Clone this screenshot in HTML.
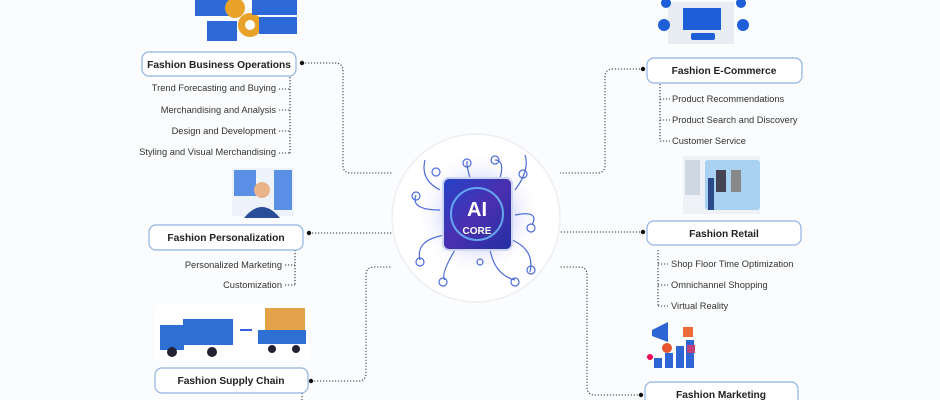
<!DOCTYPE html>
<html><head><meta charset="utf-8"><style>
html,body{margin:0;padding:0;width:940px;height:400px;overflow:hidden;background:#fbfcfd;}
svg{display:block}
text{font-family:"Liberation Sans",sans-serif;fill:#222;}
.h{font-size:10.2px;font-weight:bold;}
.s{font-size:9.3px;fill:#333;}
.box{fill:#fff;stroke:#8fb4e0;stroke-width:1.2;}
.d{fill:none;stroke:#333;stroke-width:1.1;stroke-dasharray:1.2 1.8;}
</style></head><body>
<svg width="940" height="400" viewBox="0 0 940 400">
<defs>
<radialGradient id="glow" cx="50%" cy="50%" r="50%"><stop offset="0" stop-color="#6a6cf0" stop-opacity=".55"/><stop offset=".6" stop-color="#8a8cf5" stop-opacity=".2"/><stop offset="1" stop-color="#fff" stop-opacity="0"/></radialGradient>
<linearGradient id="chip" x1="0" y1="0" x2="1" y2="1"><stop offset="0" stop-color="#2443c8"/><stop offset=".5" stop-color="#4a2fb0"/><stop offset="1" stop-color="#2230a0"/></linearGradient>
</defs>
<path class="d" d="M302 63 H335 Q343 63 343 71 V165 Q343 173 351 173 H392"/>
<path class="d" d="M309 233 H392"/>
<path class="d" d="M311 381 H358 Q366 381 366 373 V275 Q366 267 374 267 H392"/>
<path class="d" d="M643 69 H613 Q605 69 605 77 V165 Q605 173 597 173 H560"/>
<path class="d" d="M643 232 H560"/>
<path class="d" d="M641 395 H595 Q587 395 587 387 V275 Q587 267 579 267 H560"/>
<path class="d" d="M290 77 V154 M279 89 H290 M279 110 H290 M279 131 H290 M279 153 H290"/>
<path class="d" d="M295 250 V285 M285 265 H295 M285 285 H295"/>
<path class="d" d="M302 393 V400"/>
<path class="d" d="M660 84 V141 M660 99 H670 M660 120 H670 M660 141 H670"/>
<path class="d" d="M658 250 V306 M658 264 H668 M658 285 H668 M658 306 H668"/>
<g fill="#111"><circle cx="302" cy="63" r="2.2"/><circle cx="309" cy="233" r="2.2"/><circle cx="311" cy="381" r="2.2"/><circle cx="643" cy="69" r="2.2"/><circle cx="643" cy="232" r="2.2"/><circle cx="641" cy="395" r="2.2"/></g>
<circle cx="476" cy="218" r="84" fill="#fff" stroke="#eceef3" stroke-width="1.5"/>
<circle cx="478" cy="214" r="62" fill="url(#glow)"/>
<g fill="none" stroke="#4d6bd8" stroke-width="1.2">
<path d="M440 190 Q420 180 425 160 M445 235 Q415 240 420 260 M515 190 Q530 170 525 155 M512 240 Q535 250 530 272 M470 178 Q465 160 468 162 M490 250 Q495 275 515 280 M455 250 Q440 275 445 280 M500 178 Q505 160 495 160 M440 210 Q410 210 416 195 M515 215 Q540 210 532 225"/>
<circle cx="436" cy="172" r="4"/><circle cx="467" cy="163" r="4"/><circle cx="495" cy="160" r="4"/><circle cx="523" cy="174" r="4"/><circle cx="531" cy="228" r="4"/><circle cx="531" cy="270" r="4"/><circle cx="420" cy="262" r="4"/><circle cx="416" cy="196" r="4"/><circle cx="443" cy="282" r="4"/><circle cx="515" cy="282" r="4"/><circle cx="480" cy="262" r="3"/>
</g>
<rect x="443" y="178" width="69" height="72" rx="6" fill="url(#chip)" stroke="#cdd6f5" stroke-width="2"/>
<circle cx="477" cy="214" r="26" fill="none" stroke="#6fc3ff" stroke-width="2" opacity=".8"/>
<text x="477" y="216" text-anchor="middle" style="font-size:20px;font-weight:bold;fill:#fff">AI</text>
<text x="477" y="234" text-anchor="middle" style="font-size:10px;font-weight:bold;fill:#fff">CORE</text>
<rect class="box" x="142" y="52" width="154" height="24" rx="7"/><text class="h" x="219" y="68" text-anchor="middle">Fashion Business Operations</text>
<rect class="box" x="149" y="225" width="154" height="25" rx="7"/><text class="h" x="226" y="241" text-anchor="middle">Fashion Personalization</text>
<rect class="box" x="155" y="368" width="153" height="25" rx="7"/><text class="h" x="231" y="384" text-anchor="middle">Fashion Supply Chain</text>
<rect class="box" x="647" y="58" width="155" height="25" rx="7"/><text class="h" x="724" y="74" text-anchor="middle">Fashion E-Commerce</text>
<rect class="box" x="647" y="221" width="154" height="24" rx="7"/><text class="h" x="724" y="237" text-anchor="middle">Fashion Retail</text>
<rect class="box" x="645" y="382" width="153" height="25" rx="7"/><text class="h" x="721" y="398" text-anchor="middle">Fashion Marketing</text>
<text class="s" x="276" y="91" text-anchor="end">Trend Forecasting and Buying</text>
<text class="s" x="276" y="113" text-anchor="end">Merchandising and Analysis</text>
<text class="s" x="276" y="134" text-anchor="end">Design and Development</text>
<text class="s" x="276" y="155" text-anchor="end">Styling and Visual Merchandising</text>
<text class="s" x="282" y="268" text-anchor="end">Personalized Marketing</text>
<text class="s" x="282" y="288" text-anchor="end">Customization</text>
<text class="s" x="672" y="102">Product Recommendations</text>
<text class="s" x="672" y="123">Product Search and Discovery</text>
<text class="s" x="672" y="144">Customer Service</text>
<text class="s" x="671" y="267">Shop Floor Time Optimization</text>
<text class="s" x="671" y="288">Omnichannel Shopping</text>
<text class="s" x="671" y="309">Virtual Reality</text>
<g>
<rect x="195" y="0" width="35" height="16" fill="#2d6ad8"/><circle cx="235" cy="8" r="10" fill="#e8a22a"/><circle cx="250" cy="25" r="12" fill="#e8a22a"/><circle cx="250" cy="25" r="5" fill="#fff"/>
<rect x="252" y="0" width="45" height="15" fill="#2d6ad8"/><rect x="207" y="21" width="30" height="20" fill="#2d6ad8"/><rect x="259" y="17" width="38" height="17" fill="#2d6ad8"/>
<rect x="668" y="2" width="66" height="42" fill="#e8ecf3"/><rect x="683" y="8" width="38" height="22" fill="#1e5ed8"/><rect x="691" y="33" width="24" height="7" rx="2" fill="#1e5ed8"/>
<circle cx="666" cy="3" r="5" fill="#1e5ed8"/><circle cx="664" cy="25" r="6" fill="#1e5ed8"/><circle cx="741" cy="3" r="5" fill="#1e5ed8"/><circle cx="743" cy="25" r="6" fill="#1e5ed8"/>
<rect x="232" y="168" width="62" height="48" fill="#eef3fb"/><rect x="234" y="170" width="22" height="26" fill="#5a8fe6"/><rect x="274" y="170" width="18" height="40" fill="#5a8fe6"/><circle cx="262" cy="190" r="8" fill="#e9b48a"/><path d="M244 218 Q262 196 280 218Z" fill="#2a4d9a"/>
<rect x="683" y="156" width="77" height="58" fill="#eef2f7"/><rect x="705" y="160" width="55" height="50" rx="3" fill="#a9d1f2"/><rect x="716" y="170" width="10" height="22" fill="#445"/><rect x="731" y="170" width="10" height="22" fill="#888"/><rect x="708" y="178" width="6" height="32" fill="#2b4a8a"/><rect x="685" y="160" width="15" height="35" fill="#cfd7e2"/>
<rect x="155" y="305" width="155" height="55" fill="#fff"/><rect x="183" y="319" width="50" height="26" fill="#2e6fd4"/><rect x="160" y="325" width="24" height="25" fill="#2e6fd4"/><circle cx="172" cy="352" r="5" fill="#223"/><circle cx="212" cy="352" r="5" fill="#223"/><path d="M240 330 H252" stroke="#3462e0" stroke-width="2"/>
<rect x="265" y="308" width="40" height="25" fill="#e4a24a"/><rect x="258" y="330" width="48" height="14" fill="#2e6fd4"/><circle cx="272" cy="349" r="4" fill="#223"/><circle cx="296" cy="349" r="4" fill="#223"/>
<rect x="654" y="358" width="8" height="10" fill="#2d66d4"/><rect x="665" y="353" width="8" height="15" fill="#2d66d4"/><rect x="676" y="346" width="8" height="22" fill="#2d66d4"/><rect x="686" y="340" width="8" height="28" fill="#2d66d4"/>
<path d="M652 330 L668 322 V342 L652 336Z" fill="#2d66d4"/><circle cx="667" cy="348" r="5" fill="#e8552e"/><rect x="683" y="327" width="10" height="10" fill="#ed6a3b"/><rect x="687" y="345" width="8" height="8" fill="#c0407a"/><circle cx="650" cy="357" r="3" fill="#e05"/>
</g>
</svg>
</body></html>
